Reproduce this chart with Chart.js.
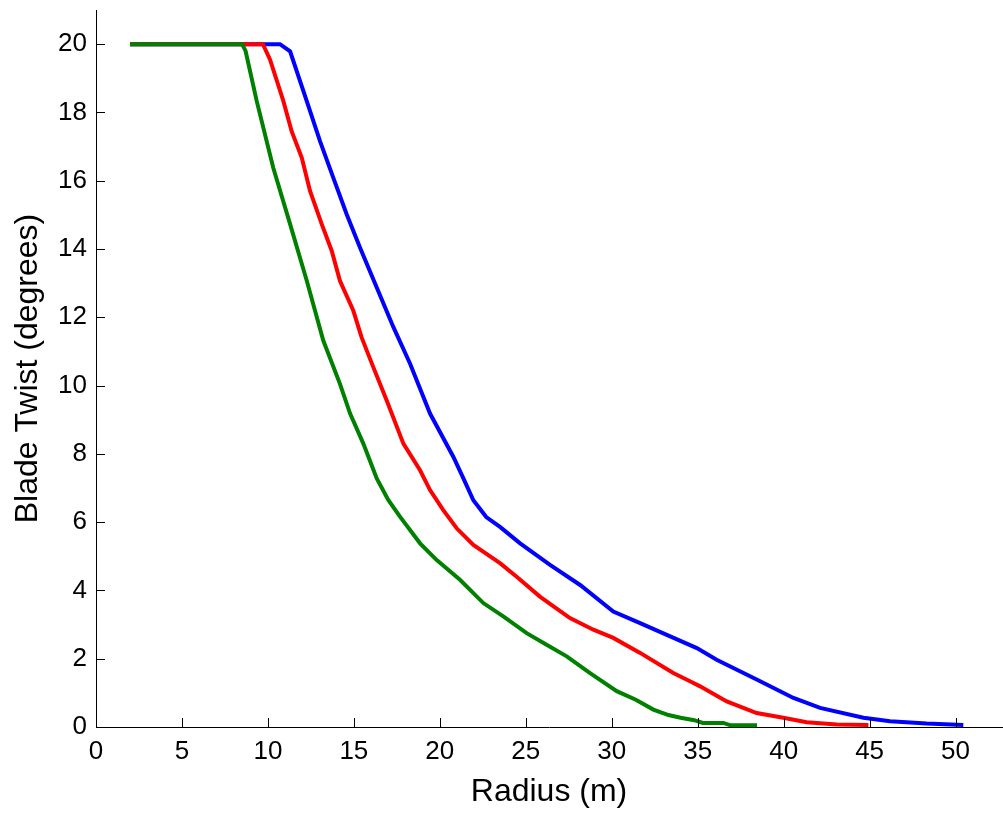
<!DOCTYPE html>
<html>
<head>
<meta charset="utf-8">
<script src="https://cdn.jsdelivr.net/npm/chart.js@4.4.1/dist/chart.umd.min.js"></script>
<style>
  html, body { margin: 0; padding: 0; background: #fff; }
</style>
</head>
<body>
<canvas id="twistChart" width="1003" height="813"></canvas>
<script>
// blade twist vs radius, three blade designs
const greenRadius = [1.98, 8.5, 8.7, 9.35, 10.31, 11.29, 12.26, 13.22, 14.19, 14.78, 15.55, 16.33, 17.0, 17.68, 18.85, 19.82, 21.17, 22.53, 23.69, 25.05, 26.21, 27.38, 28.74, 30.29, 31.4, 32.42, 33.3, 34.0, 34.8, 35.3, 36.5, 36.9, 38.45];
const greenTwist  = [20, 20, 19.8, 18.33, 16.38, 14.73, 13.07, 11.32, 10.05, 9.18, 8.30, 7.28, 6.65, 6.16, 5.38, 4.89, 4.31, 3.63, 3.24, 2.75, 2.41, 2.07, 1.58, 1.05, 0.8, 0.51, 0.35, 0.27, 0.2, 0.12, 0.12, 0.05, 0.05];

const redRadius = [1.98, 9.71, 10.12, 10.9, 11.38, 11.97, 12.45, 13.13, 13.71, 14.19, 14.97, 15.45, 16.13, 16.91, 17.88, 18.85, 19.43, 20.2, 20.98, 21.95, 23.5, 24.47, 25.82, 27.57, 28.93, 30.09, 31.65, 33.58, 34.55, 35.14, 36.69, 38.43, 39.98, 41.34, 43.09, 44.93];
const redTwist  = [20, 20, 19.55, 18.33, 17.45, 16.67, 15.7, 14.73, 13.95, 13.07, 12.19, 11.41, 10.54, 9.56, 8.3, 7.52, 6.94, 6.35, 5.82, 5.33, 4.8, 4.4, 3.82, 3.19, 2.85, 2.61, 2.17, 1.58, 1.34, 1.19, 0.75, 0.41, 0.27, 0.14, 0.07, 0.06];

const blueRadius = [1.98, 10.7, 11.29, 12.26, 13.03, 13.8, 14.58, 15.36, 16.33, 17.3, 18.27, 19.43, 20.79, 21.37, 21.95, 22.7, 23.5, 24.67, 26.41, 28.16, 30.09, 31.65, 33.2, 34.95, 36.1, 38.43, 40.57, 42.12, 44.64, 46.19, 48.32, 50.45];
const blueTwist  = [20, 20, 19.79, 18.33, 17.16, 16.09, 15.02, 14.04, 12.87, 11.71, 10.64, 9.18, 7.91, 7.28, 6.64, 6.15, 5.86, 5.38, 4.75, 4.16, 3.38, 3.04, 2.7, 2.31, 1.97, 1.39, 0.85, 0.56, 0.27, 0.17, 0.1, 0.06];

const xTickValues = [0, 5, 10, 15, 20, 25, 30, 35, 40, 45, 50];
const yTickValues = [0, 2, 4, 6, 8, 10, 12, 14, 16, 18, 20];

function toPoints(xs, ys) {
  return xs.map((x, i) => ({ x: x, y: ys[i] }));
}

function lineSet(label, xs, ys, colour) {
  return {
    label: label,
    data: toPoints(xs, ys),
    borderColor: colour,
    backgroundColor: colour,
    borderWidth: 4,
    pointRadius: 0,
    tension: 0,
    fill: false,
    clip: false
  };
}

// matlab style tick marks pointing into the plot
const inwardTicks = {
  id: 'inwardTicks',
  afterDraw(chart) {
    const ctx = chart.ctx;
    const area = chart.chartArea;
    const xs = chart.scales.x;
    const ys = chart.scales.y;
    ctx.save();
    ctx.strokeStyle = '#000';
    ctx.lineWidth = 1;
    ctx.beginPath();
    xs.ticks.forEach(t => {
      const px = Math.round(xs.getPixelForValue(t.value)) + 0.5;
      ctx.moveTo(px, area.bottom);
      ctx.lineTo(px, area.bottom - 9);
    });
    ys.ticks.forEach(t => {
      const py = Math.round(ys.getPixelForValue(t.value)) + 0.5;
      ctx.moveTo(area.left, py);
      ctx.lineTo(area.left + 9, py);
    });
    ctx.stroke();
    ctx.restore();
  }
};

Chart.defaults.font.family = '"Liberation Sans", Arial, sans-serif';
Chart.defaults.color = '#000';

const config = {
  type: 'line',
  data: {
    datasets: [
      lineSet('Design A', greenRadius, greenTwist, '#008000'),
      lineSet('Design B', redRadius, redTwist, '#ff0000'),
      lineSet('Design C', blueRadius, blueTwist, '#0000ff')
    ]
  },
  options: {
    responsive: false,
    animation: false,
    layout: { padding: { top: 10, right: 1, left: 0, bottom: 0 } },
    plugins: {
      legend: { display: false },
      tooltip: { enabled: false }
    },
    scales: {
      x: {
        type: 'linear',
        min: 0,
        max: 52.7,
        afterBuildTicks: s => { s.ticks = xTickValues.map(v => ({ value: v })); },
        afterFit: s => { s.height = 86; s.paddingLeft = 0; s.paddingRight = 0; },
        grid: { display: false, drawTicks: false },
        border: { display: true, color: '#000', width: 1 },
        ticks: { font: { size: 26 }, padding: 9, maxRotation: 0 },
        title: { display: true, text: 'Radius (m)', font: { size: 32 }, padding: { top: 0, bottom: 2 } }
      },
      y: {
        type: 'linear',
        min: 0,
        max: 21,
        afterBuildTicks: s => { s.ticks = yTickValues.map(v => ({ value: v })); },
        afterFit: s => { s.width = 96; s.paddingTop = 0; s.paddingBottom = 0; },
        grid: { display: false, drawTicks: false },
        border: { display: true, color: '#000', width: 1 },
        ticks: { font: { size: 26 }, padding: 9 },
        title: { display: true, text: 'Blade Twist (degrees)', font: { size: 32 }, padding: { top: 9, bottom: 0 } }
      }
    }
  },
  plugins: [inwardTicks]
};

const twistChart = new Chart(document.getElementById('twistChart'), config);
</script>
</body>
</html>
